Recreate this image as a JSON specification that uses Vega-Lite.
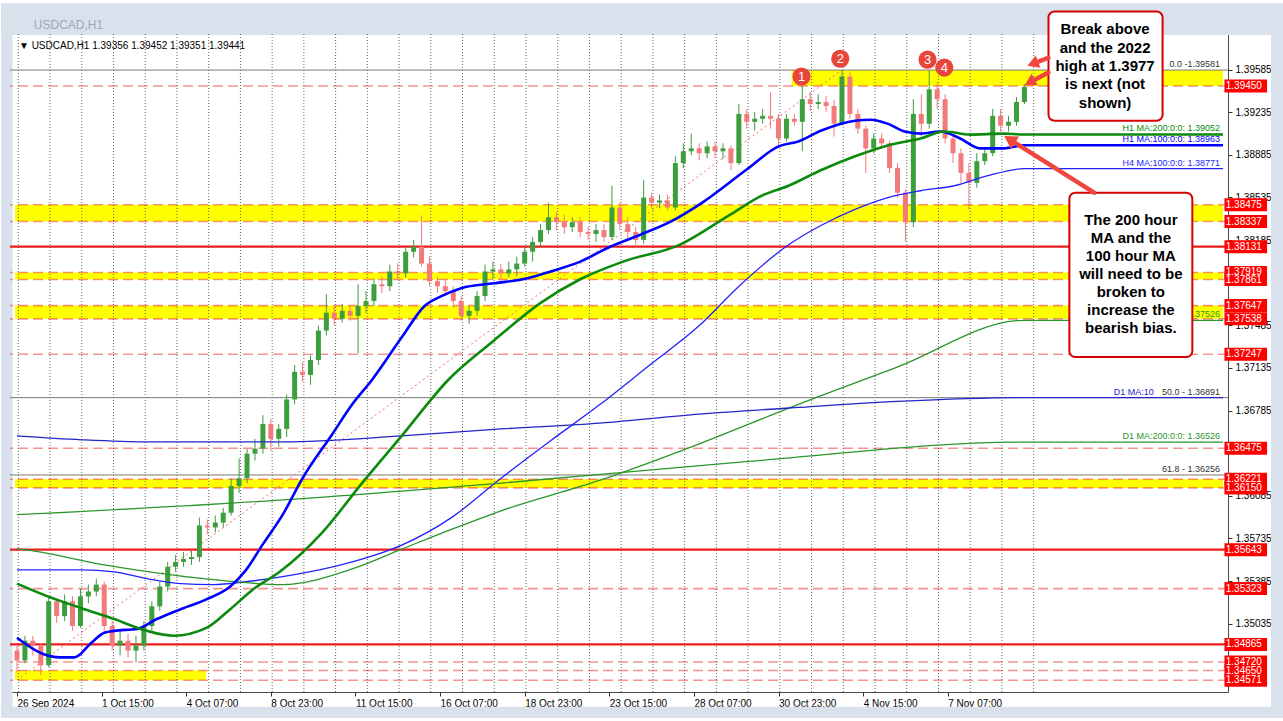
{
"$schema": "https://vega.github.io/schema/vega-lite/v6.json",
"width": 1218, "height": 658,
"autosize": {"type": "none"},
"padding": {"left": 10, "top": 34, "right": 55, "bottom": 29},
"background": "#ffffff",
"config": {"view": {"stroke": "#4a4a4a", "strokeWidth": 1}, "font": "Liberation Sans", "axis": {"titleColor": "transparent"}},
"datasets": {
"candles": [
{"i":0,"o":1.34814,"h":1.34855,"l":1.34636,"c":1.34733},
{"i":6,"o":1.34733,"h":1.34936,"l":1.34709,"c":1.34895},
{"i":12,"o":1.34895,"h":1.34936,"l":1.34774,"c":1.34855},
{"i":18,"o":1.34855,"h":1.34871,"l":1.34612,"c":1.34693},
{"i":24,"o":1.34693,"h":1.35259,"l":1.34677,"c":1.35219},
{"i":30,"o":1.35219,"h":1.35243,"l":1.35041,"c":1.35097},
{"i":36,"o":1.35097,"h":1.35275,"l":1.35057,"c":1.35219},
{"i":42,"o":1.35219,"h":1.35259,"l":1.34976,"c":1.35016},
{"i":48,"o":1.35016,"h":1.35324,"l":1.35000,"c":1.35259},
{"i":54,"o":1.35259,"h":1.35356,"l":1.35202,"c":1.35299},
{"i":60,"o":1.35299,"h":1.35405,"l":1.35259,"c":1.35356},
{"i":66,"o":1.35356,"h":1.35380,"l":1.34976,"c":1.35016},
{"i":72,"o":1.35016,"h":1.35057,"l":1.34814,"c":1.34855},
{"i":78,"o":1.34855,"h":1.34976,"l":1.34774,"c":1.34895},
{"i":84,"o":1.34895,"h":1.34952,"l":1.34758,"c":1.34814},
{"i":90,"o":1.34814,"h":1.34936,"l":1.34717,"c":1.34855},
{"i":96,"o":1.34855,"h":1.35057,"l":1.34814,"c":1.35016},
{"i":102,"o":1.35016,"h":1.35219,"l":1.34976,"c":1.35178},
{"i":108,"o":1.35178,"h":1.35380,"l":1.35138,"c":1.35340},
{"i":114,"o":1.35340,"h":1.35542,"l":1.35299,"c":1.35502},
{"i":120,"o":1.35502,"h":1.35599,"l":1.35461,"c":1.35542},
{"i":126,"o":1.35542,"h":1.35623,"l":1.35502,"c":1.35566},
{"i":132,"o":1.35566,"h":1.35639,"l":1.35518,"c":1.35582},
{"i":138,"o":1.35582,"h":1.35906,"l":1.35542,"c":1.35841},
{"i":144,"o":1.35841,"h":1.35890,"l":1.35768,"c":1.35825},
{"i":150,"o":1.35825,"h":1.35922,"l":1.35785,"c":1.35865},
{"i":156,"o":1.35865,"h":1.35987,"l":1.35825,"c":1.35946},
{"i":162,"o":1.35946,"h":1.36229,"l":1.35922,"c":1.36165},
{"i":168,"o":1.36165,"h":1.36391,"l":1.36108,"c":1.36229},
{"i":174,"o":1.36229,"h":1.36472,"l":1.36189,"c":1.36431},
{"i":180,"o":1.36431,"h":1.36553,"l":1.36375,"c":1.36472},
{"i":186,"o":1.36472,"h":1.36747,"l":1.36431,"c":1.36674},
{"i":192,"o":1.36674,"h":1.36714,"l":1.36456,"c":1.36553},
{"i":198,"o":1.36553,"h":1.36674,"l":1.36488,"c":1.36634},
{"i":204,"o":1.36634,"h":1.36917,"l":1.36569,"c":1.36876},
{"i":210,"o":1.36876,"h":1.37159,"l":1.36836,"c":1.37103},
{"i":216,"o":1.37103,"h":1.37183,"l":1.37022,"c":1.37078},
{"i":222,"o":1.37078,"h":1.37240,"l":1.36997,"c":1.37200},
{"i":228,"o":1.37200,"h":1.37483,"l":1.37159,"c":1.37442},
{"i":234,"o":1.37442,"h":1.37741,"l":1.37402,"c":1.37588},
{"i":240,"o":1.37588,"h":1.37644,"l":1.37483,"c":1.37539},
{"i":246,"o":1.37539,"h":1.37660,"l":1.37507,"c":1.37604},
{"i":252,"o":1.37604,"h":1.37644,"l":1.37523,"c":1.37563},
{"i":258,"o":1.37563,"h":1.37822,"l":1.37256,"c":1.37644},
{"i":264,"o":1.37644,"h":1.37766,"l":1.37588,"c":1.37685},
{"i":270,"o":1.37685,"h":1.37871,"l":1.37644,"c":1.37822},
{"i":276,"o":1.37822,"h":1.37887,"l":1.37750,"c":1.37806},
{"i":282,"o":1.37806,"h":1.37984,"l":1.37766,"c":1.37927},
{"i":288,"o":1.37927,"h":1.37992,"l":1.37863,"c":1.37911},
{"i":294,"o":1.37911,"h":1.38130,"l":1.37879,"c":1.38089},
{"i":300,"o":1.38089,"h":1.38186,"l":1.38041,"c":1.38130},
{"i":306,"o":1.38130,"h":1.38388,"l":1.37968,"c":1.37992},
{"i":312,"o":1.37992,"h":1.38049,"l":1.37806,"c":1.37847},
{"i":318,"o":1.37847,"h":1.37887,"l":1.37750,"c":1.37806},
{"i":324,"o":1.37806,"h":1.37863,"l":1.37725,"c":1.37766},
{"i":330,"o":1.37766,"h":1.37806,"l":1.37628,"c":1.37685},
{"i":336,"o":1.37685,"h":1.37725,"l":1.37523,"c":1.37563},
{"i":342,"o":1.37563,"h":1.37644,"l":1.37499,"c":1.37604},
{"i":348,"o":1.37604,"h":1.37766,"l":1.37563,"c":1.37725},
{"i":354,"o":1.37725,"h":1.37984,"l":1.37685,"c":1.37927},
{"i":360,"o":1.37927,"h":1.38008,"l":1.37863,"c":1.37944},
{"i":366,"o":1.37944,"h":1.37992,"l":1.37847,"c":1.37911},
{"i":372,"o":1.37911,"h":1.38008,"l":1.37879,"c":1.37944},
{"i":378,"o":1.37944,"h":1.38049,"l":1.37887,"c":1.37992},
{"i":384,"o":1.37992,"h":1.38130,"l":1.37968,"c":1.38089},
{"i":390,"o":1.38089,"h":1.38210,"l":1.38008,"c":1.38170},
{"i":396,"o":1.38170,"h":1.38316,"l":1.38130,"c":1.38267},
{"i":402,"o":1.38267,"h":1.38493,"l":1.38235,"c":1.38372},
{"i":408,"o":1.38372,"h":1.38413,"l":1.38267,"c":1.38332},
{"i":414,"o":1.38332,"h":1.38396,"l":1.38235,"c":1.38291},
{"i":420,"o":1.38291,"h":1.38372,"l":1.38251,"c":1.38332},
{"i":426,"o":1.38332,"h":1.38372,"l":1.38210,"c":1.38251},
{"i":432,"o":1.38251,"h":1.38291,"l":1.38186,"c":1.38235},
{"i":438,"o":1.38235,"h":1.38316,"l":1.38170,"c":1.38267},
{"i":444,"o":1.38267,"h":1.38316,"l":1.38170,"c":1.38210},
{"i":450,"o":1.38210,"h":1.38631,"l":1.38186,"c":1.38453},
{"i":456,"o":1.38453,"h":1.38493,"l":1.38267,"c":1.38316},
{"i":462,"o":1.38316,"h":1.38372,"l":1.38202,"c":1.38251},
{"i":468,"o":1.38251,"h":1.38291,"l":1.38130,"c":1.38186},
{"i":474,"o":1.38186,"h":1.38679,"l":1.38154,"c":1.38534},
{"i":480,"o":1.38534,"h":1.38574,"l":1.38445,"c":1.38493},
{"i":486,"o":1.38493,"h":1.38558,"l":1.38445,"c":1.38510},
{"i":492,"o":1.38510,"h":1.38558,"l":1.38429,"c":1.38453},
{"i":498,"o":1.38453,"h":1.38873,"l":1.38429,"c":1.38817},
{"i":504,"o":1.38817,"h":1.38979,"l":1.38776,"c":1.38914},
{"i":510,"o":1.38914,"h":1.39059,"l":1.38882,"c":1.38938},
{"i":516,"o":1.38938,"h":1.38979,"l":1.38841,"c":1.38898},
{"i":522,"o":1.38898,"h":1.38995,"l":1.38857,"c":1.38954},
{"i":528,"o":1.38954,"h":1.38995,"l":1.38857,"c":1.38914},
{"i":534,"o":1.38914,"h":1.38979,"l":1.38849,"c":1.38938},
{"i":540,"o":1.38938,"h":1.38962,"l":1.38760,"c":1.38817},
{"i":546,"o":1.38817,"h":1.39302,"l":1.38801,"c":1.39221},
{"i":552,"o":1.39221,"h":1.39262,"l":1.39100,"c":1.39156},
{"i":558,"o":1.39156,"h":1.39237,"l":1.39084,"c":1.39181},
{"i":564,"o":1.39181,"h":1.39262,"l":1.39140,"c":1.39205},
{"i":570,"o":1.39205,"h":1.39399,"l":1.39100,"c":1.39181},
{"i":576,"o":1.39181,"h":1.39221,"l":1.38962,"c":1.39019},
{"i":582,"o":1.39019,"h":1.39221,"l":1.38995,"c":1.39181},
{"i":588,"o":1.39181,"h":1.39221,"l":1.39124,"c":1.39156},
{"i":594,"o":1.39156,"h":1.39464,"l":1.38914,"c":1.39342},
{"i":600,"o":1.39342,"h":1.39399,"l":1.39245,"c":1.39302},
{"i":606,"o":1.39302,"h":1.39383,"l":1.39262,"c":1.39318},
{"i":612,"o":1.39318,"h":1.39367,"l":1.39237,"c":1.39286},
{"i":618,"o":1.39286,"h":1.39334,"l":1.39035,"c":1.39140},
{"i":624,"o":1.39140,"h":1.39581,"l":1.39124,"c":1.39528},
{"i":630,"o":1.39528,"h":1.39561,"l":1.39181,"c":1.39221},
{"i":636,"o":1.39221,"h":1.39262,"l":1.39059,"c":1.39100},
{"i":642,"o":1.39100,"h":1.39124,"l":1.38736,"c":1.38938},
{"i":648,"o":1.38938,"h":1.39059,"l":1.38898,"c":1.39019},
{"i":654,"o":1.39019,"h":1.39059,"l":1.38938,"c":1.38979},
{"i":660,"o":1.38979,"h":1.39003,"l":1.38736,"c":1.38776},
{"i":666,"o":1.38776,"h":1.38817,"l":1.38534,"c":1.38574},
{"i":672,"o":1.38574,"h":1.38599,"l":1.38170,"c":1.38332},
{"i":678,"o":1.38332,"h":1.39342,"l":1.38291,"c":1.39221},
{"i":684,"o":1.39221,"h":1.39383,"l":1.39035,"c":1.39140},
{"i":690,"o":1.39140,"h":1.39578,"l":1.39100,"c":1.39423},
{"i":696,"o":1.39423,"h":1.39480,"l":1.39262,"c":1.39342},
{"i":702,"o":1.39342,"h":1.39383,"l":1.38979,"c":1.39019},
{"i":708,"o":1.39019,"h":1.39059,"l":1.38817,"c":1.38898},
{"i":714,"o":1.38898,"h":1.38938,"l":1.38655,"c":1.38736},
{"i":720,"o":1.38736,"h":1.38817,"l":1.38437,"c":1.38655},
{"i":726,"o":1.38655,"h":1.38898,"l":1.38615,"c":1.38833},
{"i":732,"o":1.38833,"h":1.38938,"l":1.38801,"c":1.38898},
{"i":738,"o":1.38898,"h":1.39262,"l":1.38873,"c":1.39205},
{"i":744,"o":1.39205,"h":1.39262,"l":1.39076,"c":1.39124},
{"i":750,"o":1.39124,"h":1.39205,"l":1.39076,"c":1.39156},
{"i":756,"o":1.39156,"h":1.39359,"l":1.39124,"c":1.39318},
{"i":762,"o":1.39318,"h":1.39464,"l":1.39302,"c":1.39441}
],
"maThick": [
{"s":"H1 MA100","i":0,"p":1.34919},{"s":"H1 MA100","i":18.8,"p":1.34790},{"s":"H1 MA100","i":32.3,"p":1.34758},{"s":"H1 MA100","i":43.5,"p":1.34758},{"s":"H1 MA100","i":56.3,"p":1.34879},{"s":"H1 MA100","i":66,"p":1.34960},{"s":"H1 MA100","i":73.5,"p":1.34976},{"s":"H1 MA100","i":90.8,"p":1.34992},{"s":"H1 MA100","i":105.8,"p":1.35073},{"s":"H1 MA100","i":123.8,"p":1.35154},{"s":"H1 MA100","i":143.3,"p":1.35235},{"s":"H1 MA100","i":161.3,"p":1.35340},{"s":"H1 MA100","i":173.3,"p":1.35477},{"s":"H1 MA100","i":186,"p":1.35688},{"s":"H1 MA100","i":201,"p":1.35930},{"s":"H1 MA100","i":216,"p":1.36229},{"s":"H1 MA100","i":238.6,"p":1.36593},{"s":"H1 MA100","i":253.6,"p":1.36836},{"s":"H1 MA100","i":268.6,"p":1.37038},{"s":"H1 MA100","i":291,"p":1.37386},{"s":"H1 MA100","i":308.3,"p":1.37644},{"s":"H1 MA100","i":321,"p":1.37725},{"s":"H1 MA100","i":336,"p":1.37790},{"s":"H1 MA100","i":360.8,"p":1.37830},{"s":"H1 MA100","i":386.3,"p":1.37871},{"s":"H1 MA100","i":403.6,"p":1.37927},{"s":"H1 MA100","i":426,"p":1.38008},{"s":"H1 MA100","i":448.6,"p":1.38130},{"s":"H1 MA100","i":471,"p":1.38227},{"s":"H1 MA100","i":493.6,"p":1.38332},{"s":"H1 MA100","i":518.4,"p":1.38493},{"s":"H1 MA100","i":551.4,"p":1.38760},{"s":"H1 MA100","i":576.1,"p":1.38954},{"s":"H1 MA100","i":591,"p":1.38995},{"s":"H1 MA100","i":608.4,"p":1.39084},{"s":"H1 MA100","i":633.9,"p":1.39165},{"s":"H1 MA100","i":645.9,"p":1.39173},{"s":"H1 MA100","i":658.7,"p":1.39140},{"s":"H1 MA100","i":671.4,"p":1.39076},{"s":"H1 MA100","i":683.4,"p":1.39059},{"s":"H1 MA100","i":698.4,"p":1.39076},{"s":"H1 MA100","i":713.4,"p":1.39019},{"s":"H1 MA100","i":728.4,"p":1.38938},{"s":"H1 MA100","i":746.4,"p":1.38938},{"s":"H1 MA100","i":761.4,"p":1.38963},{"s":"H1 MA100","i":912.2,"p":1.38963},
{"s":"H1 MA200","i":0,"p":1.35364},{"s":"H1 MA200","i":23.3,"p":1.35259},{"s":"H1 MA200","i":48.8,"p":1.35162},{"s":"H1 MA200","i":73.5,"p":1.35073},{"s":"H1 MA200","i":98.3,"p":1.34976},{"s":"H1 MA200","i":118.5,"p":1.34936},{"s":"H1 MA200","i":143.3,"p":1.35000},{"s":"H1 MA200","i":161.3,"p":1.35154},{"s":"H1 MA200","i":178.5,"p":1.35316},{"s":"H1 MA200","i":198.8,"p":1.35461},{"s":"H1 MA200","i":231,"p":1.35785},{"s":"H1 MA200","i":261,"p":1.36189},{"s":"H1 MA200","i":291,"p":1.36577},{"s":"H1 MA200","i":326.3,"p":1.37038},{"s":"H1 MA200","i":360.8,"p":1.37361},{"s":"H1 MA200","i":396.1,"p":1.37669},{"s":"H1 MA200","i":426,"p":1.37863},{"s":"H1 MA200","i":458.4,"p":1.38008},{"s":"H1 MA200","i":501.1,"p":1.38146},{"s":"H1 MA200","i":538.6,"p":1.38388},{"s":"H1 MA200","i":563.4,"p":1.38550},{"s":"H1 MA200","i":583.6,"p":1.38631},{"s":"H1 MA200","i":608.4,"p":1.38760},{"s":"H1 MA200","i":633.9,"p":1.38873},{"s":"H1 MA200","i":658.7,"p":1.38962},{"s":"H1 MA200","i":683.4,"p":1.39019},{"s":"H1 MA200","i":701.4,"p":1.39076},{"s":"H1 MA200","i":720.9,"p":1.39051},{"s":"H1 MA200","i":746.4,"p":1.39059},{"s":"H1 MA200","i":761.4,"p":1.39052},{"s":"H1 MA200","i":912.2,"p":1.39052}
],
"maThin": [
{"s":"H4 MA100","i":0,"p":1.35477},{"s":"H4 MA100","i":48.8,"p":1.35477},{"s":"H4 MA100","i":73.5,"p":1.35461},{"s":"H4 MA100","i":98.3,"p":1.35405},{"s":"H4 MA100","i":123.8,"p":1.35364},{"s":"H4 MA100","i":148.5,"p":1.35356},{"s":"H4 MA100","i":173.3,"p":1.35380},{"s":"H4 MA100","i":201,"p":1.35421},{"s":"H4 MA100","i":253.6,"p":1.35542},{"s":"H4 MA100","i":291,"p":1.35680},{"s":"H4 MA100","i":328.6,"p":1.35906},{"s":"H4 MA100","i":366.1,"p":1.36229},{"s":"H4 MA100","i":403.6,"p":1.36537},{"s":"H4 MA100","i":441.1,"p":1.36836},{"s":"H4 MA100","i":478.6,"p":1.37159},{"s":"H4 MA100","i":516.1,"p":1.37483},{"s":"H4 MA100","i":546.1,"p":1.37806},{"s":"H4 MA100","i":583.6,"p":1.38146},{"s":"H4 MA100","i":608.4,"p":1.38307},{"s":"H4 MA100","i":633.9,"p":1.38437},{"s":"H4 MA100","i":658.7,"p":1.38534},{"s":"H4 MA100","i":683.4,"p":1.38590},{"s":"H4 MA100","i":708.9,"p":1.38631},{"s":"H4 MA100","i":733.7,"p":1.38712},{"s":"H4 MA100","i":761.4,"p":1.38771},{"s":"H4 MA100","i":912.2,"p":1.38771},
{"s":"H4 MA200","i":0,"p":1.35650},{"s":"H4 MA200","i":8.3,"p":1.35639},{"s":"H4 MA200","i":66,"p":1.35518},{"s":"H4 MA200","i":141,"p":1.35405},{"s":"H4 MA200","i":201,"p":1.35356},{"s":"H4 MA200","i":253.6,"p":1.35485},{"s":"H4 MA200","i":291,"p":1.35647},{"s":"H4 MA200","i":328.6,"p":1.35809},{"s":"H4 MA200","i":366.1,"p":1.35962},{"s":"H4 MA200","i":441.1,"p":1.36213},{"s":"H4 MA200","i":516.1,"p":1.36512},{"s":"H4 MA200","i":591.1,"p":1.36836},{"s":"H4 MA200","i":666.2,"p":1.37143},{"s":"H4 MA200","i":756.2,"p":1.37523},{"s":"H4 MA200","i":761.4,"p":1.37526},{"s":"H4 MA200","i":912.2,"p":1.37526},
{"s":"D1 MA100","i":0,"p":1.36577},{"s":"D1 MA100","i":48.8,"p":1.36545},{"s":"D1 MA100","i":98.3,"p":1.36528},{"s":"D1 MA100","i":201,"p":1.36528},{"s":"D1 MA100","i":291,"p":1.36577},{"s":"D1 MA100","i":366.1,"p":1.36634},{"s":"D1 MA100","i":441.1,"p":1.36682},{"s":"D1 MA100","i":516.1,"p":1.36755},{"s":"D1 MA100","i":591.1,"p":1.36811},{"s":"D1 MA100","i":666.2,"p":1.36860},{"s":"D1 MA100","i":761.4,"p":1.36891},{"s":"D1 MA100","i":912.2,"p":1.36891},
{"s":"D1 MA200","i":0,"p":1.35930},{"s":"D1 MA200","i":201,"p":1.36051},{"s":"D1 MA200","i":366.1,"p":1.36189},{"s":"D1 MA200","i":553.6,"p":1.36367},{"s":"D1 MA200","i":761.4,"p":1.36526},{"s":"D1 MA200","i":912.2,"p":1.36526}
],
"maLabels": [
{"s":"H1 MA200","t":"H1 MA:200:0:0: 1.39052","p":1.39052},
{"s":"H1 MA100","t":"H1 MA:100:0:0: 1.38963","p":1.38963},
{"s":"H4 MA100","t":"H4 MA:100:0:0: 1.38771","p":1.38771},
{"s":"H4 MA200","t":".37526","p":1.37526},
{"s":"D1 MA200","t":"D1 MA:200:0:0: 1.36526","p":1.36526}
],
"bands": [
{"lo":1.39450,"hi":1.39581,"a":586,"b":912.2},
{"lo":1.38337,"hi":1.38475,"a":-1.5,"b":912.2},
{"lo":1.37861,"hi":1.37919,"a":-1.5,"b":912.2},
{"lo":1.37538,"hi":1.37647,"a":-1.5,"b":912.2},
{"lo":1.36150,"hi":1.36221,"a":-1.5,"b":912.2},
{"lo":1.34571,"hi":1.34650,"a":-1.5,"b":143}
],
"days": [{"i":1},{"i":25},{"i":49},{"i":73},{"i":97},{"i":121},{"i":145},{"i":169},{"i":193},{"i":217},{"i":241},{"i":265},{"i":289},{"i":313},{"i":337},{"i":361},{"i":385},{"i":409},{"i":433},{"i":457},{"i":481},{"i":505},{"i":529},{"i":553},{"i":577},{"i":601},{"i":625},{"i":649},{"i":673},{"i":697},{"i":721},{"i":745},{"i":769}],
"fib": [{"p":1.39581,"t":"0.0 -1.39581"},{"p":1.36891,"t":"50.0 - 1.36891"},{"p":1.36256,"t":"61.8 - 1.36256"}],
"dashed": [{"p":1.39450},{"p":1.38475},{"p":1.38337},{"p":1.37919},{"p":1.37861},{"p":1.37647},{"p":1.37538},{"p":1.37247},{"p":1.36475},{"p":1.36221},{"p":1.36150},{"p":1.35323},{"p":1.34720},{"p":1.34650},{"p":1.34571}],
"solid": [{"p":1.38131},{"p":1.35643},{"p":1.34865}],
"levels": [{"p":1.34571},{"p":1.34650},{"p":1.34720},{"p":1.34865},{"p":1.35323},{"p":1.35643},{"p":1.36150},{"p":1.36221},{"p":1.36475},{"p":1.37247},{"p":1.37538},{"p":1.37647},{"p":1.37861},{"p":1.37919},{"p":1.38131},{"p":1.38337},{"p":1.38475},{"p":1.39450}],
"trend": [{"i":0,"p":1.34571},{"i":624,"p":1.39581}],
"markers": [{"n":"1","i":593.4,"p":1.39528},{"n":"2","i":622.7,"p":1.39674},{"n":"3","i":688.7,"p":1.39666},{"n":"4","i":701.4,"p":1.39601}],
"arrows": [{"a":"A1","i":780.2,"p":1.39682},{"a":"A1","i":770.1,"p":1.39640},{"a":"A2","i":780.2,"p":1.39561},{"a":"A2","i":767.7,"p":1.39490},{"a":"B","i":814.7,"p":1.38574},{"a":"B","i":752.4,"p":1.39001}]
},
"layer": [
{"data":{"values":[{}]},"mark":{"type":"rect","color":"#d9e2ec"},"encoding":{"x":{"datum":-12,"type":"quantitative","title":null,"scale":{"domain":[-1.5,912.2],"nice":false,"zero":false}},"x2":{"datum":960},"y":{"datum":1.4013,"type":"quantitative","title":null,"scale":{"domain":[1.34515,1.39836],"nice":false,"zero":false}},"y2":{"datum":1.39868}}},
{"data":{"values":[{}]},"mark":{"type":"rect","color":"#d9e2ec"},"encoding":{"x":{"datum":-12,"type":"quantitative","title":null,"scale":{"domain":[-1.5,912.2],"nice":false,"zero":false}},"x2":{"datum":-3.4},"y":{"datum":1.4013,"type":"quantitative","title":null,"scale":{"domain":[1.34515,1.39836],"nice":false,"zero":false}},"y2":{"datum":1.3426}}},
{"data":{"values":[{}]},"mark":{"type":"rect","color":"#d9e2ec"},"encoding":{"x":{"datum":948.5,"type":"quantitative","title":null,"scale":{"domain":[-1.5,912.2],"nice":false,"zero":false}},"x2":{"datum":960},"y":{"datum":1.4013,"type":"quantitative","title":null,"scale":{"domain":[1.34515,1.39836],"nice":false,"zero":false}},"y2":{"datum":1.3426}}},
{"data":{"values":[{}]},"mark":{"type":"rect","color":"#d9e2ec"},"encoding":{"x":{"datum":-12,"type":"quantitative","title":null,"scale":{"domain":[-1.5,912.2],"nice":false,"zero":false}},"x2":{"datum":960},"y":{"datum":1.34353,"type":"quantitative","title":null,"scale":{"domain":[1.34515,1.39836],"nice":false,"zero":false}},"y2":{"datum":1.3426}}},
{"data":{"values":[{}]},"mark":{"type":"text","text":"USDCAD,H1","align":"left","baseline":"middle","fontSize":12,"color":"#9ea8b3","font":"Liberation Sans"},"encoding":{"x":{"datum":12.75,"type":"quantitative","title":null,"scale":{"domain":[-1.5,912.2],"nice":false,"zero":false}},"y":{"datum":1.39949,"type":"quantitative","title":null,"scale":{"domain":[1.34515,1.39836],"nice":false,"zero":false}}}},
{"data":{"name":"bands"},"mark":{"type":"rect","color":"#ffff00"},"encoding":{"x":{"field":"a","type":"quantitative","title":null,"scale":{"domain":[-1.5,912.2],"nice":false,"zero":false}},"x2":{"field":"b"},"y":{"field":"lo","type":"quantitative","title":null,"scale":{"domain":[1.34515,1.39836],"nice":false,"zero":false}},"y2":{"field":"hi"}}},
{"data":{"name":"days"},"mark":{"type":"rule","color":"#666666","strokeDash":[1,2],"strokeWidth":1},"encoding":{"x":{"field":"i","type":"quantitative","title":null,"scale":{"domain":[-1.5,912.2],"nice":false,"zero":false}}}},
{"data":{"name":"fib"},"mark":{"type":"rule","color":"#7a7a7a","strokeWidth":1},"encoding":{"y":{"field":"p","type":"quantitative","title":null,"scale":{"domain":[1.34515,1.39836],"nice":false,"zero":false}}}},
{"data":{"name":"dashed"},"mark":{"type":"rule","color":"#ee2a2a","opacity":0.5,"strokeDash":[10,5],"strokeWidth":1.6},"encoding":{"y":{"field":"p","type":"quantitative","title":null,"scale":{"domain":[1.34515,1.39836],"nice":false,"zero":false}}}},
{"data":{"name":"solid"},"mark":{"type":"rule","color":"#ec1c1c","strokeWidth":2.2},"encoding":{"y":{"field":"p","type":"quantitative","title":null,"scale":{"domain":[1.34515,1.39836],"nice":false,"zero":false}}}},
{"data":{"name":"trend"},"mark":{"type":"line","color":"#f06a6a","strokeDash":[2,3],"strokeWidth":1},"encoding":{"x":{"field":"i","type":"quantitative","title":null,"scale":{"domain":[-1.5,912.2],"nice":false,"zero":false}},"y":{"field":"p","type":"quantitative","title":null,"scale":{"domain":[1.34515,1.39836],"nice":false,"zero":false}}}},
{"data":{"name":"candles"},"mark":{"type":"rule","strokeWidth":1},"encoding":{"x":{"field":"i","type":"quantitative","title":null,"scale":{"domain":[-1.5,912.2],"nice":false,"zero":false}},"y":{"field":"l","type":"quantitative","title":null,"scale":{"domain":[1.34515,1.39836],"nice":false,"zero":false}},"y2":{"field":"h"},"color":{"condition":{"test":"datum.c >= datum.o","value":"#3d9e3d"},"value":"#f27a7a"}}},
{"data":{"name":"candles"},"mark":{"type":"bar","size":5},"encoding":{"x":{"field":"i","type":"quantitative","title":null,"scale":{"domain":[-1.5,912.2],"nice":false,"zero":false},"axis":{"values":[0,64,128,192,256,320,384,448,512,576,640,704],"labelExpr":"['26 Sep 2024','1 Oct 15:00','4 Oct 07:00','8 Oct 23:00','11 Oct 15:00','16 Oct 07:00','18 Oct 23:00','23 Oct 15:00','28 Oct 07:00','30 Oct 23:00','4 Nov 15:00','7 Nov 07:00'][round(datum.value/64)]","title":null,"domain":false,"grid":false,"ticks":true,"tickSize":4,"tickColor":"#333333","labelAlign":"left","labelBaseline":"top","labelPadding":2,"labelFont":"Liberation Sans","labelFontSize":10,"labelColor":"#000000","labelOverlap":false,"labelFlush":false,"labelBound":false}},"y":{"field":"o","type":"quantitative","title":null,"scale":{"domain":[1.34515,1.39836],"nice":false,"zero":false},"axis":{"orient":"right","values":[1.35035,1.35385,1.35735,1.36085,1.36785,1.37135,1.37485,1.38185,1.38535,1.38885,1.39235,1.39585],"format":".5f","title":null,"domain":false,"grid":false,"ticks":true,"tickSize":4,"tickColor":"#333333","labelPadding":3,"labelFont":"Liberation Sans","labelFontSize":10,"labelColor":"#000000","labelOverlap":false,"labelFlush":false,"labelBound":false}},"y2":{"field":"c"},"color":{"condition":{"test":"datum.c >= datum.o","value":"#3d9e3d"},"value":"#f27a7a"}}},
{"data":{"name":"maThin"},"mark":{"type":"line","strokeWidth":1.3,"interpolate":"monotone"},"encoding":{"x":{"field":"i","type":"quantitative","title":null,"scale":{"domain":[-1.5,912.2],"nice":false,"zero":false}},"y":{"field":"p","type":"quantitative","title":null,"scale":{"domain":[1.34515,1.39836],"nice":false,"zero":false}},"color":{"field":"s","type":"nominal","scale":{"domain":["H1 MA100","H1 MA200","H4 MA100","H4 MA200","D1 MA100","D1 MA200"],"range":["#0000ff","#0b8a0b","#2222ff","#2a962a","#2424c8","#2a962a"]},"legend":null}}},
{"data":{"name":"maThick"},"mark":{"type":"line","strokeWidth":2.6,"interpolate":"monotone"},"encoding":{"x":{"field":"i","type":"quantitative","title":null,"scale":{"domain":[-1.5,912.2],"nice":false,"zero":false}},"y":{"field":"p","type":"quantitative","title":null,"scale":{"domain":[1.34515,1.39836],"nice":false,"zero":false}},"color":{"field":"s","type":"nominal","scale":{"domain":["H1 MA100","H1 MA200","H4 MA100","H4 MA200","D1 MA100","D1 MA200"],"range":["#0000ff","#0b8a0b","#2222ff","#2a962a","#2424c8","#2a962a"]},"legend":null}}},
{"data":{"name":"maLabels"},"mark":{"type":"text","align":"right","baseline":"bottom","dy":-1,"fontSize":9,"font":"Liberation Sans"},"encoding":{"x":{"datum":910,"type":"quantitative","title":null,"scale":{"domain":[-1.5,912.2],"nice":false,"zero":false}},"y":{"field":"p","type":"quantitative","title":null,"scale":{"domain":[1.34515,1.39836],"nice":false,"zero":false}},"text":{"field":"t"},"color":{"field":"s","type":"nominal","scale":{"domain":["H1 MA100","H1 MA200","H4 MA100","H4 MA200","D1 MA100","D1 MA200"],"range":["#0000ff","#0b8a0b","#2222ff","#2a962a","#2424c8","#2a962a"]},"legend":null}}},
{"data":{"name":"fib"},"mark":{"type":"text","align":"right","baseline":"bottom","dy":-1,"fontSize":9,"font":"Liberation Sans","color":"#333333"},"encoding":{"x":{"datum":910,"type":"quantitative","title":null,"scale":{"domain":[-1.5,912.2],"nice":false,"zero":false}},"y":{"field":"p","type":"quantitative","title":null,"scale":{"domain":[1.34515,1.39836],"nice":false,"zero":false}},"text":{"field":"t"}}},
{"data":{"values":[{}]},"mark":{"type":"text","text":"D1 MA:10","align":"left","baseline":"bottom","dy":-1,"fontSize":9,"font":"Liberation Sans","color":"#2424c8"},"encoding":{"x":{"datum":829.5,"type":"quantitative","title":null,"scale":{"domain":[-1.5,912.2],"nice":false,"zero":false}},"y":{"datum":1.36891,"type":"quantitative","title":null,"scale":{"domain":[1.34515,1.39836],"nice":false,"zero":false}}}},
{"data":{"values":[{}]},"mark":{"type":"text","text":"▼ USDCAD,H1  1.39356 1.39452 1.39351 1.39441","align":"left","baseline":"middle","fontSize":10,"font":"Liberation Sans","color":"#000000"},"encoding":{"x":{"datum":1.5,"type":"quantitative","title":null,"scale":{"domain":[-1.5,912.2],"nice":false,"zero":false}},"y":{"datum":1.39775,"type":"quantitative","title":null,"scale":{"domain":[1.34515,1.39836],"nice":false,"zero":false}}}},
{"data":{"name":"levels"},"mark":{"type":"bar","color":"#ff0000","size":13,"orient":"horizontal"},"encoding":{"x":{"datum":913.3,"type":"quantitative","title":null,"scale":{"domain":[-1.5,912.2],"nice":false,"zero":false}},"x2":{"datum":945.5},"y":{"field":"p","type":"quantitative","title":null,"scale":{"domain":[1.34515,1.39836],"nice":false,"zero":false}}}},
{"data":{"name":"levels"},"mark":{"type":"text","align":"left","baseline":"middle","fontSize":10,"font":"Liberation Sans","color":"#ffffff"},"encoding":{"x":{"datum":914.3,"type":"quantitative","title":null,"scale":{"domain":[-1.5,912.2],"nice":false,"zero":false}},"y":{"field":"p","type":"quantitative","title":null,"scale":{"domain":[1.34515,1.39836],"nice":false,"zero":false}},"text":{"field":"p","type":"quantitative","format":".5f"}}},
{"data":{"name":"markers"},"mark":{"type":"point","shape":"circle","filled":true,"size":330,"color":"#e8453c","opacity":1},"encoding":{"x":{"field":"i","type":"quantitative","title":null,"scale":{"domain":[-1.5,912.2],"nice":false,"zero":false}},"y":{"field":"p","type":"quantitative","title":null,"scale":{"domain":[1.34515,1.39836],"nice":false,"zero":false}}}},
{"data":{"name":"markers"},"mark":{"type":"text","align":"center","baseline":"middle","fontSize":13,"font":"Liberation Sans","color":"#ffffff"},"encoding":{"x":{"field":"i","type":"quantitative","title":null,"scale":{"domain":[-1.5,912.2],"nice":false,"zero":false}},"y":{"field":"p","type":"quantitative","title":null,"scale":{"domain":[1.34515,1.39836],"nice":false,"zero":false}},"text":{"field":"n"}}},
{"data":{"values":[{}]},"mark":{"type":"rect","fill":"#ffffff","stroke":"#d40000","strokeWidth":2,"cornerRadius":6},"encoding":{"x":{"datum":780.2,"type":"quantitative","title":null,"scale":{"domain":[-1.5,912.2],"nice":false,"zero":false}},"x2":{"datum":866.5},"y":{"datum":1.40062,"type":"quantitative","title":null,"scale":{"domain":[1.34515,1.39836],"nice":false,"zero":false}},"y2":{"datum":1.39165}}},
{"data":{"values":[{}]},"mark":{"type":"rect","fill":"#ffffff","stroke":"#d40000","strokeWidth":2,"cornerRadius":6},"encoding":{"x":{"datum":796,"type":"quantitative","title":null,"scale":{"domain":[-1.5,912.2],"nice":false,"zero":false}},"x2":{"datum":889},"y":{"datum":1.38574,"type":"quantitative","title":null,"scale":{"domain":[1.34515,1.39836],"nice":false,"zero":false}},"y2":{"datum":1.37224}}},
{"data":{"values":[{}]},"mark":{"type":"text","text":["Break above","and the 2022","high at 1.3977","is next (not","shown)"],"lineHeight":18.3,"align":"center","baseline":"top","fontSize":15,"fontWeight":"bold","font":"Liberation Sans","color":"#000000"},"encoding":{"x":{"datum":823,"type":"quantitative","title":null,"scale":{"domain":[-1.5,912.2],"nice":false,"zero":false}},"y":{"datum":1.39973,"type":"quantitative","title":null,"scale":{"domain":[1.34515,1.39836],"nice":false,"zero":false}}}},
{"data":{"values":[{}]},"mark":{"type":"text","text":["The 200 hour","MA and the","100 hour MA","will need to be","broken to","increase the","bearish bias."],"lineHeight":18,"align":"center","baseline":"top","fontSize":15,"fontWeight":"bold","font":"Liberation Sans","color":"#000000"},"encoding":{"x":{"datum":842.5,"type":"quantitative","title":null,"scale":{"domain":[-1.5,912.2],"nice":false,"zero":false}},"y":{"datum":1.38404,"type":"quantitative","title":null,"scale":{"domain":[1.34515,1.39836],"nice":false,"zero":false}}}},
{"data":{"name":"arrows"},"mark":{"type":"line","color":"#f2453d","strokeWidth":4.5,"strokeCap":"round"},"encoding":{"x":{"field":"i","type":"quantitative","title":null,"scale":{"domain":[-1.5,912.2],"nice":false,"zero":false}},"y":{"field":"p","type":"quantitative","title":null,"scale":{"domain":[1.34515,1.39836],"nice":false,"zero":false}},"detail":{"field":"a"}}},
{"data":{"values":[{}]},"mark":{"type":"point","shape":"triangle-up","filled":true,"size":170,"angle":249,"color":"#f2453d","opacity":1},"encoding":{"x":{"datum":768.3,"type":"quantitative","title":null,"scale":{"domain":[-1.5,912.2],"nice":false,"zero":false}},"y":{"datum":1.39633,"type":"quantitative","title":null,"scale":{"domain":[1.34515,1.39836],"nice":false,"zero":false}}}},
{"data":{"values":[{}]},"mark":{"type":"point","shape":"triangle-up","filled":true,"size":170,"angle":242,"color":"#f2453d","opacity":1},"encoding":{"x":{"datum":766,"type":"quantitative","title":null,"scale":{"domain":[-1.5,912.2],"nice":false,"zero":false}},"y":{"datum":1.39481,"type":"quantitative","title":null,"scale":{"domain":[1.34515,1.39836],"nice":false,"zero":false}}}},
{"data":{"values":[{}]},"mark":{"type":"point","shape":"triangle-up","filled":true,"size":220,"angle":302,"color":"#f2453d","opacity":1},"encoding":{"x":{"datum":750.8,"type":"quantitative","title":null,"scale":{"domain":[-1.5,912.2],"nice":false,"zero":false}},"y":{"datum":1.39012,"type":"quantitative","title":null,"scale":{"domain":[1.34515,1.39836],"nice":false,"zero":false}}}}
]
}
